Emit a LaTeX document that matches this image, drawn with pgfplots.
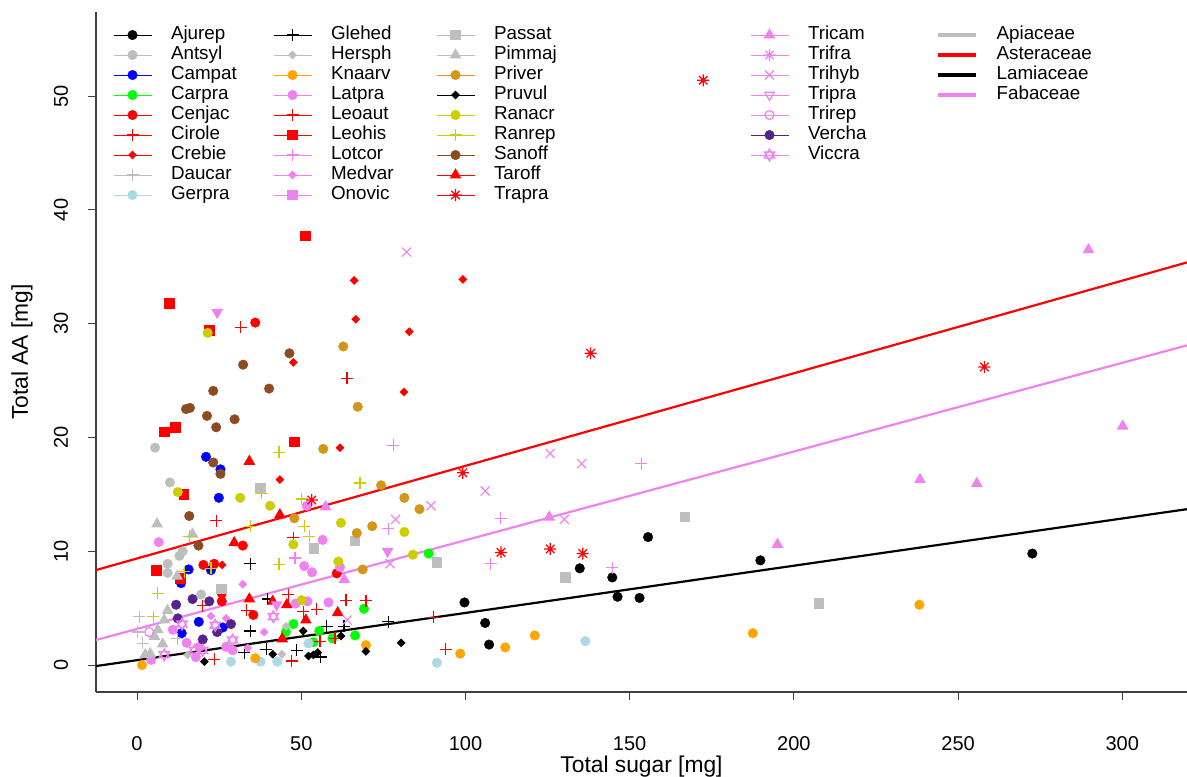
\documentclass[border=0pt]{standalone}
\usepackage{pgfplots}
\pgfplotsset{compat=1.18}
\usepackage{fontspec}
\setmainfont{Liberation Sans}

\definecolor{rgray}{RGB}{190,190,190}
\definecolor{rblue}{RGB}{0,0,255}
\definecolor{rgreen}{RGB}{0,255,0}
\definecolor{rred}{RGB}{255,0,0}
\definecolor{rlightblue}{RGB}{173,216,230}
\definecolor{rorange}{RGB}{255,165,0}
\definecolor{rviolet}{RGB}{238,130,238}
\definecolor{rgold}{RGB}{210,150,25}
\definecolor{ryellow}{RGB}{205,205,0}
\definecolor{rbrown}{RGB}{140,75,35}
\definecolor{rpurple}{RGB}{85,35,140}

\pgfdeclareplotmark{rstar}{%
  \pgfpathmoveto{\pgfqpoint{-\pgfplotmarksize}{0pt}}\pgfpathlineto{\pgfqpoint{\pgfplotmarksize}{0pt}}%
  \pgfpathmoveto{\pgfqpoint{0pt}{-\pgfplotmarksize}}\pgfpathlineto{\pgfqpoint{0pt}{\pgfplotmarksize}}%
  \pgfpathmoveto{\pgfqpoint{-.707\pgfplotmarksize}{-.707\pgfplotmarksize}}\pgfpathlineto{\pgfqpoint{.707\pgfplotmarksize}{.707\pgfplotmarksize}}%
  \pgfpathmoveto{\pgfqpoint{-.707\pgfplotmarksize}{.707\pgfplotmarksize}}\pgfpathlineto{\pgfqpoint{.707\pgfplotmarksize}{-.707\pgfplotmarksize}}%
  \pgfusepathqstroke}
\pgfdeclareplotmark{david}{%
  \pgfpathmoveto{\pgfqpoint{0pt}{\pgfplotmarksize}}%
  \pgfpathlineto{\pgfqpoint{-.866\pgfplotmarksize}{-.5\pgfplotmarksize}}%
  \pgfpathlineto{\pgfqpoint{.866\pgfplotmarksize}{-.5\pgfplotmarksize}}\pgfpathclose
  \pgfpathmoveto{\pgfqpoint{0pt}{-\pgfplotmarksize}}%
  \pgfpathlineto{\pgfqpoint{-.866\pgfplotmarksize}{.5\pgfplotmarksize}}%
  \pgfpathlineto{\pgfqpoint{.866\pgfplotmarksize}{.5\pgfplotmarksize}}\pgfpathclose
  \pgfusepathqstroke}

\pgfplotsset{
  dot/.style={color=#1, line width=0.5pt, mark=*, mark size=2.4pt, mark options={solid, draw=#1, fill=#1, line width=0.2pt}},
  pls/.style={color=#1, line width=0.5pt, mark=+, mark size=3pt, mark options={solid, line width=0.6pt}},
  dia/.style={color=#1, line width=0.5pt, mark=square*, mark size=1.3pt, mark options={solid, rotate=45, draw=#1, fill=#1}},
  sqr/.style={color=#1, line width=0.5pt, mark=square*, mark size=2.4pt, mark options={solid, draw=#1, fill=#1}},
  tri/.style={color=#1, line width=0.5pt, mark=triangle*, mark size=2.9pt, mark options={solid, draw=#1, fill=#1}},
  ast/.style={color=#1, line width=0.5pt, mark=rstar, mark size=3pt, mark options={solid, line width=0.6pt}},
  crs/.style={color=#1, line width=0.5pt, mark=x, mark size=3.2pt, mark options={solid, line width=0.6pt}},
  dtri/.style={color=#1, line width=0.5pt, mark=triangle*, mark size=2.9pt, mark options={solid, rotate=180, draw=#1, fill=#1}},
  dtrio/.style={color=#1, line width=0.5pt, mark=triangle, mark size=2.7pt, mark options={solid, rotate=180, line width=0.6pt}},
  ocirc/.style={color=#1, line width=0.5pt, mark=o, mark size=2.2pt, mark options={solid, line width=0.6pt}},
  dav/.style={color=#1, line width=0.5pt, mark=david, mark size=3pt, mark options={solid, line width=0.6pt}},
  fam/.style={color=#1, line width=1.8pt, mark=none},
}
\tikzset{c1/.style={text width=51pt}, c2/.style={text width=52.5pt}, c3/.style={text width=128pt}, c4/.style={text width=64pt}, c5/.style={text width=60pt}}

\begin{document}
\begin{tikzpicture}
\begin{axis}[
  scale only axis, width=545.5pt, height=340pt,
  xmin=-12.5, xmax=319.7, ymin=-2.37, ymax=57.4,
  axis x line*=bottom, axis y line*=left,
  axis line style={-, black!75, line width=0.6pt},
  xtick={0,50,...,300}, ytick={0,10,...,50},
  tick align=outside, major tick length=4pt,
  tick style={black!75, line width=0.5pt},
  /pgf/number format/assume math mode=true,
  ticklabel style={font=\fontsize{10}{12}\selectfont},
  xticklabel style={anchor=center}, xticklabel shift=22pt,
  yticklabel style={rotate=90, anchor=center}, yticklabel shift=13.5pt,
  xlabel={Total sugar [mg]}, ylabel={Total AA [mg]},
  label style={font=\fontsize{11.4}{13}\selectfont},
  xlabel style={at={(axis description cs:0.5,-0.1095)}, anchor=center},
  ylabel style={at={(axis description cs:-0.0678,0.5)}, anchor=center, rotate=0},
  legend columns=5,
  legend cell align=left,
  legend style={draw=none, fill=none, at={(axis description cs:0.0156,0.9808)}, anchor=north west,
    inner sep=0pt, outer sep=0pt, row sep=0pt, column sep=0pt,
    font=\fontsize{9.4}{10}\selectfont,
    nodes={inner sep=0pt, text height=7pt, text depth=3pt},
    /tikz/every odd column/.append style={column sep=9.5pt}},
  legend image code/.code={\draw[mark repeat=2,mark phase=2,#1] plot coordinates {(0pt,0pt)(9.5pt,0pt)(19pt,0pt)};},
]
% ---------------- data ----------------
\addplot[only marks, forget plot, dot=black] coordinates {(99.7,5.5)(106.0,3.7)(107.2,1.8)(134.8,8.5)(144.7,7.7)(146.3,6.0)(153.0,5.9)(155.6,11.25)(189.8,9.2)(272.6,9.8)};
\addplot[only marks, forget plot, dot=rgray] coordinates {(5.5,19.1)(10.0,16.05)(13.9,10.0)(12.9,9.6)(9.3,8.9)(9.3,8.1)(19.5,6.2)};
\addplot[only marks, forget plot, dot=rblue] coordinates {(21.0,18.3)(25.4,17.2)(24.9,14.7)(15.7,8.4)(13.4,7.2)(22.5,8.35)(18.8,3.8)(13.6,2.8)(26.1,3.3)};
\addplot[only marks, forget plot, dot=rgreen] coordinates {(88.8,9.8)(69.1,4.95)(47.6,3.6)(55.5,3.0)(45.3,2.9)(66.4,2.6)(59.5,2.35)(53.7,2.0)};
\addplot[only marks, forget plot, dot=rred] coordinates {(36.0,30.1)(32.2,10.5)(25.8,6.3)(25.8,5.6)(20.2,8.8)(23.5,8.9)(35.4,4.4)(60.8,8.06)};
\addplot[only marks, forget plot, pls=rred] coordinates {(63.9,25.2)(31.5,29.7)(24.1,12.7)(47.6,11.2)(46.0,6.2)(63.6,5.7)(69.7,5.65)(50.6,4.7)(20.0,5.2)};
\addplot[only marks, forget plot, pls=rred] coordinates {(54.7,4.9)(55.7,2.1)(60.3,2.35)(47.1,0.35)(23.5,0.5)(33.4,4.8)(90.2,4.2)(94.0,1.4)};
\addplot[only marks, forget plot, dia=rred] coordinates {(99.2,33.9)(66.1,33.8)(66.6,30.4)(82.9,29.3)(47.6,26.6)(81.3,24.0)(61.8,19.1)(43.5,16.3)(25.9,8.8)};
\addplot[only marks, forget plot, pls=rgray] coordinates {(0.7,4.25)(0.2,2.9)(1.7,1.9)(12.2,2.3)};
\addplot[only marks, forget plot, dot=rlightblue] coordinates {(28.6,0.3)(37.6,0.3)(42.7,0.3)(52.2,1.9)(91.3,0.2)(136.5,2.1)};
\addplot[only marks, forget plot, pls=black] coordinates {(34.5,8.9)(39.8,5.8)(34.5,3.0)(32.7,1.1)(39.3,1.4)(48.6,1.3)(55.9,0.7)(57.8,3.4)(63.0,3.4)(76.5,3.8)};
\addplot[only marks, forget plot, dia=rgray] coordinates {(15.4,0.9)(45.4,3.4)(44.1,0.95)};
\addplot[only marks, forget plot, dot=rorange] coordinates {(1.5,0.0)(36.0,0.6)(69.7,1.75)(98.4,1.0)(112.1,1.55)(121.1,2.6)(187.5,2.8)(238.2,5.3)};
\addplot[only marks, forget plot, dot=rviolet] coordinates {(6.6,10.8)(51.7,14.0)(56.5,11.0)(50.9,8.7)(53.3,8.15)(61.8,8.6)(48.3,5.4)(51.9,5.6)(58.3,5.5)(10.9,3.1)(15.1,1.95)(19.0,1.6)(27.1,1.6)(29.1,1.3)(4.3,0.45)(17.9,0.7)};
\addplot[only marks, forget plot, sqr=rred] coordinates {(51.2,37.7)(9.8,31.8)(22.0,29.4)(47.9,19.6)(8.3,20.5)(11.7,20.9)(14.3,15.0)(6.0,8.3)(13.2,7.6)};
\addplot[only marks, forget plot, pls=rviolet] coordinates {(78.0,19.3)(76.5,12.0)(48.1,9.4)(153.5,17.7)(110.7,12.9)(107.7,8.9)(144.7,8.55)};
\addplot[only marks, forget plot, dia=rviolet] coordinates {(38.7,2.9)(22.5,4.3)(27.1,4.1)(33.7,1.5)(32.2,7.1)};
\addplot[only marks, forget plot, sqr=rgray] coordinates {(37.5,15.5)(53.9,10.25)(66.4,10.9)(91.3,9.0)(25.8,6.7)(130.4,7.7)(166.9,13.0)(207.7,5.4)};
\addplot[only marks, forget plot, tri=rgray] coordinates {(6.1,12.4)(16.9,11.5)(12.2,7.8)(9.3,4.8)(8.3,3.95)(6.3,3.1)(5.3,2.5)(7.8,1.85)(2.5,0.9)(4.0,1.0)};
\addplot[only marks, forget plot, dot=rgold] coordinates {(62.8,28.0)(67.2,22.7)(56.7,19.0)(74.3,15.8)(47.9,12.9)(81.4,14.7)(86.0,13.7)(66.9,11.6)(71.6,12.2)(68.7,8.4)};
\addplot[only marks, forget plot, dia=black] coordinates {(20.5,0.3)(41.3,0.95)(50.6,3.0)(52.2,0.8)(53.7,0.9)(55.0,1.1)(62.1,2.55)(69.7,1.2)(80.4,1.95)};
\addplot[only marks, forget plot, dot=ryellow] coordinates {(21.5,29.2)(12.4,15.2)(31.4,14.7)(40.5,14.0)(62.1,12.5)(81.4,11.7)(47.6,10.6)(84.0,9.7)(61.3,9.1)(50.1,5.7)};
\addplot[only marks, forget plot, pls=ryellow] coordinates {(43.2,18.7)(67.9,16.0)(38.0,15.1)(50.1,14.6)(50.9,12.2)(52.4,11.3)(43.2,8.85)(34.5,12.2)(15.9,11.3)(14.4,8.2)(22.5,8.5)(6.3,6.3)(5.0,4.25)};
\addplot[only marks, forget plot, dot=rbrown] coordinates {(32.3,26.4)(46.4,27.4)(40.2,24.3)(23.2,24.1)(14.9,22.5)(16.1,22.6)(21.3,21.9)(29.7,21.6)(24.1,20.9)(23.2,17.8)(25.4,16.8)(15.9,13.1)(18.7,10.5)};
\addplot[only marks, forget plot, tri=rred] coordinates {(34.2,17.9)(43.5,13.2)(29.6,10.75)(34.2,5.8)(41.3,5.6)(45.6,5.3)(61.1,4.6)(51.4,3.95)(44.2,2.3)};
\addplot[only marks, forget plot, ast=rred] coordinates {(99.2,16.9)(138.1,27.4)(53.2,14.5)(110.8,9.9)(125.8,10.2)(135.7,9.8)(258.0,26.2)(172.4,51.4)};
\addplot[only marks, forget plot, tri=rviolet] coordinates {(57.4,13.9)(63.1,7.5)(125.5,13.0)(289.7,36.5)(300.1,21.0)(238.4,16.3)(255.7,15.95)(195.0,10.6)};
\addplot[only marks, forget plot, crs=rviolet] coordinates {(82.1,36.3)(89.5,14.0)(78.7,12.8)(77.0,8.9)(64.0,3.95)(125.8,18.6)(135.4,17.7)(106.0,15.3)(130.1,12.8)};
\addplot[only marks, forget plot, dtri=rviolet] coordinates {(24.4,31.0)(76.3,10.0)(42.5,5.3)};
\addplot[only marks, forget plot, ocirc=rviolet] coordinates {(3.7,2.9)};
\addplot[only marks, forget plot, dot=rpurple] coordinates {(16.9,5.8)(22.0,5.6)(11.9,5.3)(12.4,4.1)(24.4,2.9)(28.6,3.6)(20.0,2.25)};
\addplot[only marks, forget plot, dav=rviolet] coordinates {(41.5,4.25)(13.7,3.6)(23.8,3.5)(17.5,1.3)(20.0,1.3)(29.1,2.2)(8.3,0.9)};
% family regression lines
\addplot[forget plot, rred, line width=1.1pt] coordinates {(-12.5,8.35)(319.7,35.39)};
\addplot[forget plot, rviolet, line width=1.1pt] coordinates {(-12.5,2.2)(319.7,28.1)};
\addplot[forget plot, black, line width=1.1pt] coordinates {(-12.5,-0.09)(319.7,13.7)};
% ---------------- legend (row-major, 5 columns) ----------------
\addlegendimage{dot=black}\addlegendentry[c1]{Ajurep}
\addlegendimage{pls=black}\addlegendentry[c2]{Glehed}
\addlegendimage{sqr=rgray}\addlegendentry[c3]{Passat}
\addlegendimage{tri=rviolet}\addlegendentry[c4]{Tricam}
\addlegendimage{fam=rgray}\addlegendentry[c5]{Apiaceae}
\addlegendimage{dot=rgray}\addlegendentry[c1]{Antsyl}
\addlegendimage{dia=rgray}\addlegendentry[c2]{Hersph}
\addlegendimage{tri=rgray}\addlegendentry[c3]{Pimmaj}
\addlegendimage{ast=rviolet}\addlegendentry[c4]{Trifra}
\addlegendimage{fam=rred}\addlegendentry[c5]{Asteraceae}
\addlegendimage{dot=rblue}\addlegendentry[c1]{Campat}
\addlegendimage{dot=rorange}\addlegendentry[c2]{Knaarv}
\addlegendimage{dot=rgold}\addlegendentry[c3]{Priver}
\addlegendimage{crs=rviolet}\addlegendentry[c4]{Trihyb}
\addlegendimage{fam=black}\addlegendentry[c5]{Lamiaceae}
\addlegendimage{dot=rgreen}\addlegendentry[c1]{Carpra}
\addlegendimage{dot=rviolet}\addlegendentry[c2]{Latpra}
\addlegendimage{dia=black}\addlegendentry[c3]{Pruvul}
\addlegendimage{dtrio=rviolet}\addlegendentry[c4]{Tripra}
\addlegendimage{fam=rviolet}\addlegendentry[c5]{Fabaceae}
\addlegendimage{dot=rred}\addlegendentry[c1]{Cenjac}
\addlegendimage{pls=rred}\addlegendentry[c2]{Leoaut}
\addlegendimage{dot=ryellow}\addlegendentry[c3]{Ranacr}
\addlegendimage{ocirc=rviolet}\addlegendentry[c4]{Trirep}
\addlegendimage{empty legend}\addlegendentry{}
\addlegendimage{pls=rred}\addlegendentry[c1]{Cirole}
\addlegendimage{sqr=rred}\addlegendentry[c2]{Leohis}
\addlegendimage{pls=ryellow}\addlegendentry[c3]{Ranrep}
\addlegendimage{dot=rpurple}\addlegendentry[c4]{Vercha}
\addlegendimage{empty legend}\addlegendentry{}
\addlegendimage{dia=rred}\addlegendentry[c1]{Crebie}
\addlegendimage{pls=rviolet}\addlegendentry[c2]{Lotcor}
\addlegendimage{dot=rbrown}\addlegendentry[c3]{Sanoff}
\addlegendimage{dav=rviolet}\addlegendentry[c4]{Viccra}
\addlegendimage{empty legend}\addlegendentry{}
\addlegendimage{pls=rgray}\addlegendentry[c1]{Daucar}
\addlegendimage{dia=rviolet}\addlegendentry[c2]{Medvar}
\addlegendimage{tri=rred}\addlegendentry[c3]{Taroff}
\addlegendimage{empty legend}\addlegendentry{}
\addlegendimage{empty legend}\addlegendentry{}
\addlegendimage{dot=rlightblue}\addlegendentry[c1]{Gerpra}
\addlegendimage{sqr=rviolet}\addlegendentry[c2]{Onovic}
\addlegendimage{ast=rred}\addlegendentry[c3]{Trapra}
\end{axis}
\pgfresetboundingbox
\path ([xshift=-48pt,yshift=-42pt]current axis.south west) rectangle ([yshift=6pt]current axis.north east);
\end{tikzpicture}
\end{document}
